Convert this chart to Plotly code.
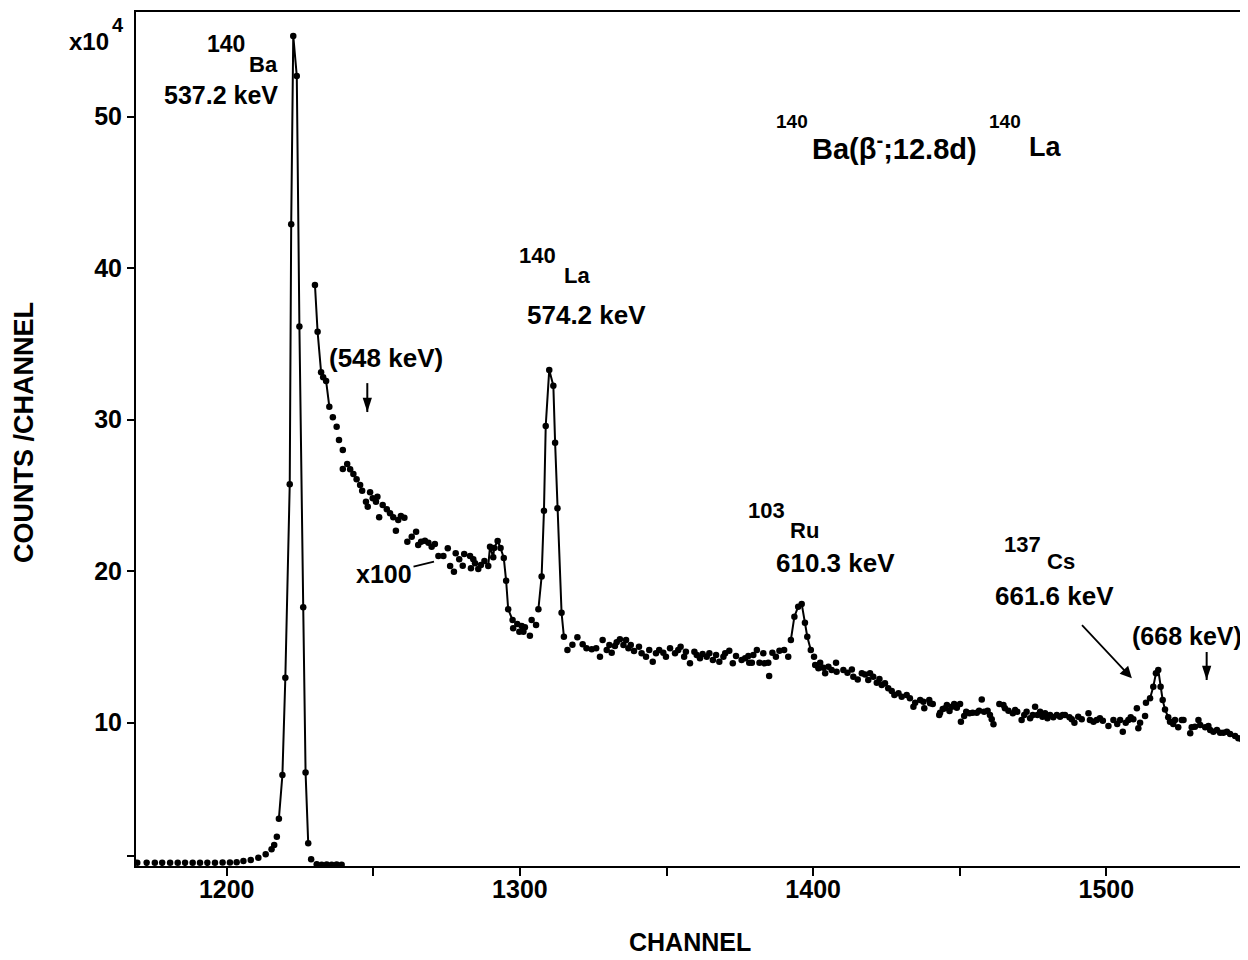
import plotly.graph_objects as go

FONT = "Liberation Sans"

# 140Ba peak, counts in units of 10^4
ba_channel = [1169.5, 1172.7, 1175.5, 1178.0, 1180.7, 1183.3, 1185.8, 1188.4, 1190.9, 1193.4,
              1196.0, 1198.6, 1201.1, 1203.4, 1205.7, 1208.2, 1210.8, 1213.3, 1215.3, 1216.2,
              1217.1, 1217.8, 1219.0, 1220.0, 1221.5, 1222.0, 1222.7, 1223.9, 1224.8, 1226.1,
              1226.9, 1227.8, 1228.8, 1230.7, 1232.4, 1234.1, 1235.8, 1237.5, 1239.2]
ba_counts = [0.75, 0.74, 0.75, 0.74, 0.75, 0.75, 0.74, 0.75, 0.75, 0.74,
             0.75, 0.76, 0.76, 0.77, 0.86, 0.92, 1.08, 1.30, 1.63, 1.91,
             2.46, 3.65, 6.54, 12.96, 25.73, 42.90, 55.33, 52.69, 36.14, 17.61,
             6.71, 2.03, 0.97, 0.64, 0.62, 0.63, 0.62, 0.63, 0.62]
ba_line = (1217.8, 1227.8)

# rest of the spectrum, plotted x100
spec_channel = [
    1230.1, 1231.0, 1232.2, 1232.9, 1233.9, 1235.0, 1236.2, 1237.5, 1238.3, 1239.6,
    1239.6, 1241.1, 1242.1, 1243.2, 1244.3, 1245.5, 1246.2, 1247.5, 1248.1, 1248.9,
    1249.8, 1250.9, 1251.4, 1252.0, 1253.2, 1254.6, 1255.7, 1256.8, 1257.7, 1258.5,
    1259.4, 1260.6, 1261.6, 1263.1, 1264.6, 1265.3, 1266.3, 1267.6, 1268.8, 1269.9,
    1271.0, 1272.2, 1273.9, 1275.4, 1276.2, 1277.5, 1278.1, 1279.3, 1280.5, 1281.0,
    1283.0, 1283.3, 1284.1, 1284.7, 1285.8, 1286.7, 1287.9, 1289.2, 1289.8, 1290.9,
    1291.2, 1292.4, 1293.4, 1294.5, 1295.3, 1296.0, 1297.5, 1297.7, 1299.1, 1299.8,
    1300.6, 1301.2, 1301.7, 1303.4, 1304.0, 1305.5, 1306.3, 1307.4, 1308.2, 1308.8,
    1310.0, 1311.4, 1312.0, 1312.8, 1314.2, 1315.0, 1316.2, 1317.9, 1319.6, 1321.4,
    1322.7, 1324.5, 1326.0, 1327.3, 1328.2, 1329.6, 1330.5, 1331.3, 1332.4, 1333.0,
    1334.1, 1335.3, 1336.2, 1337.0, 1337.8, 1338.9, 1340.6, 1341.5, 1343.0, 1344.1,
    1345.3, 1346.4, 1347.5, 1348.9, 1349.8, 1351.2, 1352.9, 1354.0, 1354.8, 1356.0,
    1356.6, 1358.0, 1359.5, 1360.3, 1361.4, 1362.3, 1363.7, 1364.6, 1365.8, 1366.9,
    1368.0, 1369.4, 1370.0, 1371.4, 1372.6, 1373.7, 1375.6, 1376.8, 1377.9, 1378.2,
    1379.1, 1379.6, 1380.8, 1381.7, 1383.0, 1383.4, 1384.7, 1385.0, 1386.1, 1387.3,
    1388.5, 1390.1, 1391.5, 1392.4, 1393.6, 1394.9, 1396.1, 1397.2, 1398.0, 1399.2,
    1400.3, 1400.7, 1401.8, 1402.4, 1403.5, 1404.1, 1405.2, 1406.3, 1407.8, 1408.0,
    1410.3, 1411.7, 1413.2, 1413.7, 1415.2, 1416.6, 1417.7, 1418.8, 1419.4, 1420.5,
    1421.7, 1422.6, 1423.4, 1424.5, 1425.6, 1426.8, 1427.7, 1429.1, 1430.2, 1431.9,
    1433.0, 1434.2, 1434.8, 1436.5, 1437.6, 1437.9, 1439.6, 1439.9, 1440.8, 1443.0,
    1443.3, 1444.2, 1445.0, 1445.6, 1446.5, 1447.3, 1448.1, 1449.0, 1450.1, 1450.4,
    1451.5, 1452.2, 1453.3, 1454.4, 1455.8, 1456.6, 1457.5, 1458.3, 1459.5, 1460.3,
    1460.9, 1461.5, 1463.5, 1464.9, 1465.4, 1466.6, 1468.1, 1468.9, 1469.6, 1471.1,
    1472.0, 1472.8, 1474.0, 1474.9, 1475.7, 1476.5, 1477.4, 1478.2, 1479.1, 1479.9,
    1480.8, 1481.9, 1483.1, 1484.2, 1485.1, 1485.9, 1487.4, 1488.2, 1489.1, 1490.4,
    1491.6, 1493.9, 1494.4, 1495.6, 1496.7, 1497.8, 1498.8, 1500.7, 1502.4, 1503.7,
    1504.7, 1505.6, 1506.6, 1507.5, 1508.3, 1509.2, 1510.4, 1510.9, 1511.5, 1513.2,
    1513.5, 1514.9, 1516.0, 1516.9, 1517.7, 1518.5, 1519.2, 1520.0, 1521.1, 1521.7,
    1522.8, 1523.4, 1524.5, 1525.7, 1526.3, 1528.6, 1529.1, 1530.2, 1531.4, 1532.0,
    1533.7, 1534.8, 1535.4, 1536.5, 1537.7, 1538.8, 1539.9, 1541.1, 1542.2, 1543.9,
    1545.0, 1546.2, 1547.3]
spec_counts = [
    38.89, 35.80, 33.12, 32.79, 32.55, 30.85, 30.15, 29.53, 28.65, 27.99,
    26.74, 27.07, 26.72, 26.41, 26.06, 25.68, 25.31, 24.58, 24.25, 25.20,
    24.81, 24.58, 24.91, 23.55, 24.36, 24.08, 23.82, 23.55, 22.67, 23.37,
    23.64, 23.52, 21.94, 22.27, 22.60, 21.72, 21.94, 22.01, 21.87, 21.61,
    21.79, 21.00, 21.00, 21.50, 20.34, 19.96, 21.17, 20.78, 20.35, 21.13,
    21.00, 20.18, 20.78, 20.51, 20.14, 20.40, 20.67, 20.34, 21.61, 20.91,
    21.52, 21.99, 21.52, 20.86, 19.36, 17.48, 16.77, 16.22, 16.51, 16.00,
    16.37, 16.00, 16.29, 15.73, 16.77, 16.44, 17.48, 19.64, 23.99, 29.58,
    33.28, 32.24, 28.48, 24.14, 17.25, 15.67, 14.79, 15.14, 15.63, 15.17,
    14.90, 14.84, 14.90, 14.35, 15.45, 14.79, 15.12, 14.61, 15.05, 15.30,
    15.50, 15.12, 15.45, 14.90, 15.12, 14.72, 15.01, 14.57, 14.35, 14.79,
    14.02, 14.57, 14.79, 14.61, 14.35, 14.90, 14.57, 14.79, 15.01, 14.35,
    14.68, 13.91, 14.68, 14.46, 14.24, 14.53, 14.35, 14.57, 14.13, 14.46,
    14.02, 14.35, 14.57, 14.74, 13.91, 14.39, 14.13, 14.24, 14.39, 13.95,
    13.95, 14.46, 14.79, 13.95, 14.57, 13.91, 13.95, 13.07, 14.61, 14.35,
    14.74, 14.79, 14.35, 15.45, 16.99, 17.65, 17.83, 16.59, 15.67, 14.79,
    14.35, 13.80, 13.58, 13.95, 13.62, 13.25, 13.69, 13.47, 13.95, 13.36,
    13.47, 13.29, 13.51, 13.03, 12.85, 13.25, 13.18, 12.81, 13.25, 13.03,
    12.63, 12.87, 12.48, 12.59, 12.26, 12.08, 11.82, 11.93, 11.71, 11.82,
    11.60, 11.05, 11.31, 11.49, 11.38, 10.94, 11.49, 11.27, 11.22, 10.50,
    10.65, 10.89, 10.94, 11.16, 10.76, 11.05, 11.22, 10.98, 11.22, 10.06,
    10.43, 10.72, 10.61, 10.65, 10.65, 10.78, 11.53, 10.72, 10.78, 10.50,
    10.21, 9.88, 11.22, 11.16, 10.94, 10.78, 10.61, 10.83, 10.72, 10.17,
    10.50, 10.72, 10.28, 10.50, 11.05, 10.50, 10.72, 10.39, 10.61, 10.28,
    10.50, 10.35, 10.50, 10.39, 10.50, 10.50, 10.35, 10.21, 9.99, 10.39,
    10.21, 10.61, 10.17, 10.06, 10.17, 10.28, 10.12, 9.77, 10.17, 9.90,
    10.17, 9.40, 9.99, 10.17, 10.35, 10.21, 10.94, 9.62, 9.99, 10.43,
    11.31, 11.60, 12.37, 13.25, 13.47, 12.37, 11.49, 10.87, 10.35, 10.06,
    9.90, 10.17, 9.69, 10.17, 10.17, 9.29, 9.69, 9.73, 10.17, 9.84,
    9.69, 9.77, 9.51, 9.40, 9.51, 9.33, 9.33, 9.40, 9.24, 9.11,
    8.96, 8.89, 8.73]
# channel ranges where the points are joined by a line
spec_lines = [(1230.0, 1235.0), (1285.8, 1297.5), (1306.3, 1315.0),
              (1392.4, 1399.2), (1513.5, 1521.1)]

# down arrows marking where the 548 keV and 668 keV lines would be
pointer_channel = [1247.95, 1534.2]
pointer_top = [32.41, 14.66]
pointer_tip = [30.50, 12.81]

assert len(ba_channel) == len(ba_counts)
assert len(spec_channel) == len(spec_counts)

x_tickvals = [1200, 1300, 1400, 1500]
x_ticktext = ["1200", "1300", "1400", "1500"]
x_minor_tickvals = [1250, 1350, 1450]
y_tickvals = [10, 20, 30, 40, 50]
y_ticktext = ["10", "20", "30", "40", "50"]
y_minor_tickvals = [1.2]

fig = go.Figure()


def add_segment(xs, ys, lo, hi):
    pts = sorted((x, y) for x, y in zip(xs, ys) if lo <= x <= hi)
    fig.add_trace(go.Scatter(x=[p[0] for p in pts], y=[p[1] for p in pts], mode="lines",
                             line=dict(color="black", width=2), hoverinfo="skip"))


add_segment(ba_channel, ba_counts, *ba_line)
for lo, hi in spec_lines:
    add_segment(spec_channel, spec_counts, lo, hi)

fig.add_trace(go.Scatter(x=ba_channel, y=ba_counts, mode="markers",
                         marker=dict(color="black", size=6.5), hoverinfo="skip"))
fig.add_trace(go.Scatter(x=spec_channel, y=spec_counts, mode="markers",
                         marker=dict(color="black", size=6.5), hoverinfo="skip"))

# arrow shafts and heads
shaft_x, shaft_y = [], []
for c, top, tip in zip(pointer_channel, pointer_top, pointer_tip):
    shaft_x += [c, c, None]
    shaft_y += [top, tip, None]
fig.add_trace(go.Scatter(x=shaft_x, y=shaft_y, mode="lines",
                         line=dict(color="black", width=2), hoverinfo="skip"))
fig.add_trace(go.Scatter(x=pointer_channel, y=pointer_tip, mode="markers",
                         marker=dict(symbol="arrow", angle=180, size=15, color="black",
                                     line=dict(width=0)),
                         hoverinfo="skip"))


def bold(size):
    return dict(family=FONT, size=size, color="black", weight="bold")


def label(text, x, y, size, xanchor="center", xref="x", yref="y", **kw):
    fig.add_annotation(text=text, x=x, y=y, xref=xref, yref=yref, showarrow=False,
                       xanchor=xanchor, yanchor="middle", font=bold(size), **kw)


# multiplier
label("x10", -0.0423, 54.93, 24, xref="paper")
label("4", -0.0162, 56.02, 20, xref="paper")

# isotope labels
label("140", 1206.9, 54.77, 23, xanchor="right")
label("Ba", 1206.9, 53.47, 22, xanchor="left")
label("537.2 keV", 1197.9, 51.43, 25)

label("140", 1313.1, 40.82, 22, xanchor="right")
label("La", 1314.3, 39.50, 22, xanchor="left")
label("574.2 keV", 1322.8, 36.91, 26)

label("(548 keV)", 1254.3, 34.10, 26)

label("103", 1391.0, 24.03, 22, xanchor="right")
label("Ru", 1391.5, 22.66, 22, xanchor="left")
label("610.3 keV", 1407.7, 20.55, 26)

label("137", 1478.5, 21.77, 22, xanchor="right")
label("Cs", 1479.1, 20.65, 22, xanchor="left")
# the Cs arrow starts below its energy label
fig.add_annotation(text="661.6 keV", x=1508.7, y=12.92, ax=-77, ay=-82, showarrow=True,
                   arrowhead=2, arrowsize=1.3, arrowwidth=1.8, arrowcolor="black",
                   startstandoff=17, font=bold(26))

label("(668 keV)", 1527.5, 15.73, 25)

fig.add_annotation(text="x100", x=1270.7, y=20.62, ax=-50, ay=12, showarrow=True,
                   arrowhead=0, arrowwidth=1.8, arrowcolor="black", font=bold(25))

# decay title
label("140", 1398.9, 49.67, 19, xanchor="right")
label("Ba(β<sup>-</sup>;12.8d)", 1398.9, 47.97, 29, xanchor="left")
label("140", 1459.2, 49.67, 19, xanchor="left")
label("La", 1472.8, 47.97, 27, xanchor="left")

# axis titles
label("CHANNEL", 0.4982, -0.089, 25, xref="paper", yref="paper")
label("COUNTS /CHANNEL", -0.1007, 0.507, 27, xref="paper", yref="paper", textangle=-90)

axis_common = dict(showgrid=False, zeroline=False, showline=True, linewidth=2,
                   linecolor="black", ticks="outside", tickwidth=2, tickcolor="black",
                   tickfont=bold(25))

# the page body adds an 8 px margin, so the figure is 8 px smaller
fig.update_layout(
    width=1240, height=952,
    margin=dict(l=128, r=0, t=4, b=94),
    paper_bgcolor="white", plot_bgcolor="white",
    showlegend=False,
    font=dict(family=FONT, size=25, color="black"),
    xaxis=dict(range=[1169.07, 1548.3], tickvals=x_tickvals, ticktext=x_ticktext,
               ticklen=8, ticklabelstandoff=-8, mirror=True,
               minor=dict(tickvals=x_minor_tickvals, ticks="outside", ticklen=8,
                          tickwidth=2, tickcolor="black"),
               **axis_common),
    yaxis=dict(range=[0.53, 56.91], tickvals=y_tickvals, ticktext=y_ticktext,
               ticklen=7,
               minor=dict(tickvals=y_minor_tickvals, ticks="outside", ticklen=7,
                          tickwidth=2, tickcolor="black"),
               **axis_common),
)

fig.write_html("out.html")
